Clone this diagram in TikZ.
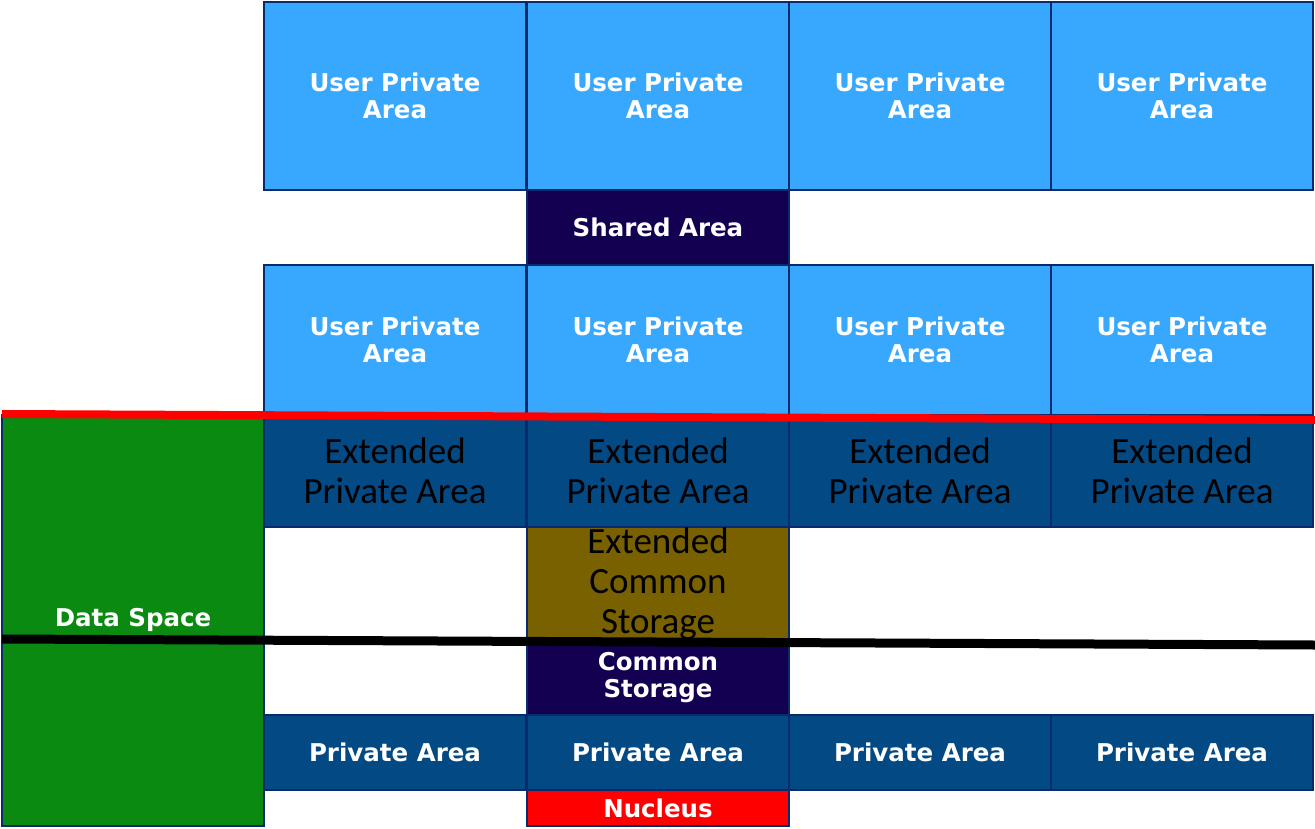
\documentclass[tikz,border=0pt]{standalone}
\usepackage{fontspec}
\newfontfamily\vfont{DejaVu Sans}
\newfontfamily\cfont{Carlito}
\definecolor{lightblue}{HTML}{38A8FF}
\definecolor{darkblue}{HTML}{034A85}
\definecolor{navy}{HTML}{140050}
\definecolor{edge}{HTML}{0A2A6E}
\definecolor{dgreen}{HTML}{0B8A12}
\definecolor{olive}{HTML}{7A6100}
\begin{document}
\begin{tikzpicture}[x=1pt,y=-1pt,
  box/.style={draw=edge,line width=2pt,anchor=north west,inner sep=0pt,outer sep=0pt,
    minimum width=262pt,align=center,text=white},
  bold/.style={font=\vfont\bfseries\fontsize{24.5}{27}\selectfont},
  cal/.style={font=\cfont\fontsize{37}{40}\selectfont,text=black},
  upa/.style={box,bold,fill=lightblue},
]
\useasboundingbox (0,0) rectangle (1315,828);
% row 1
\foreach \i/\x in {1/264,2/527,3/789,4/1051}{
  \node[upa,minimum height=188pt] (upa\i) at (\x,2) {User Private\\Area};
}
\node[box,bold,fill=navy,minimum height=75pt] (shared) at (527,190) {Shared Area};
\foreach \i/\x in {1/264,2/527,3/789,4/1051}{
  \node[upa,minimum height=150pt] (upb\i) at (\x,265) {User Private\\Area};
}
\foreach \i/\x in {1/264,2/527,3/789,4/1051}{
  \node[box,cal,fill=darkblue,minimum height=112pt] (epa\i) at (\x,415) {Extended\\Private Area};
}
\node[box,cal,fill=olive,minimum height=113pt] (ecs) at (527,527) {Extended\\Common\\Storage};
\node[box,bold,fill=navy,minimum height=75pt] (cs) at (527,640) {Common\\Storage};
\foreach \i/\x in {1/264,2/527,3/789,4/1051}{
  \node[box,bold,fill=darkblue,minimum height=75pt] (pa\i) at (\x,715) {Private Area};
}
\node[box,bold,fill=red,minimum height=36pt] (nuc) at (527,790) {Nucleus};
\node[box,fill=dgreen,minimum height=411pt] (ds) at (2,415) {};
\node[bold,text=white] (dslabel) at (133,620) {Data Space};
% lines
\coordinate (r1) at (2,414);
\coordinate (r2) at (1315,420);
\coordinate (b1) at (2,639);
\coordinate (b2) at (1315,645);
\draw[red,line width=8pt] (r1) -- (r2);
\draw[black,line width=9pt] (b1) -- (b2);
\end{tikzpicture}
\end{document}
